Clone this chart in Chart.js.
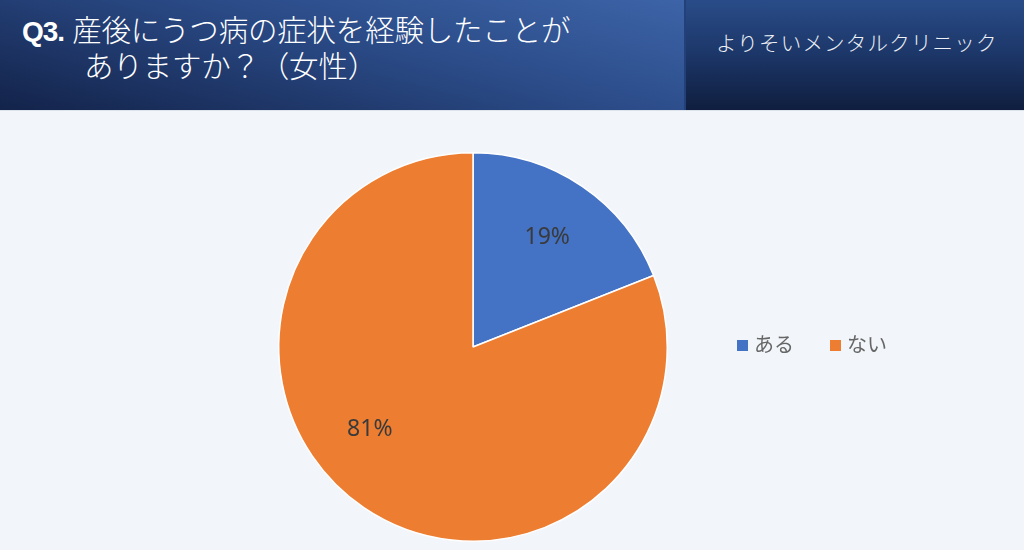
<!DOCTYPE html>
<html>
<head>
<meta charset="utf-8">
<script src="https://cdn.jsdelivr.net/npm/chart.js@4.4.1/dist/chart.umd.min.js"></script>
<style>
    body { margin: 0; width: 1024px; height: 550px; overflow: hidden; background: #f2f5f9; font-family: "Noto Sans CJK JP", sans-serif; }
    #header { position: absolute; left: 0; top: 0; width: 1024px; height: 110px; }
    #left { position: absolute; left: 0; top: 0; width: 684px; height: 110px;
        background: linear-gradient(195deg, #3d64a8 0%, #2a4a86 45%, #13234a 100%); }
    #right { position: absolute; left: 684px; top: 0; width: 340px; height: 110px;
        background: linear-gradient(180deg, #294c88 0%, #1c3668 50%, #0f1e3e 100%);
        border-left: 2px solid #22417a; box-sizing: border-box; }
    #title { position: absolute; left: 22px; top: 12px; color: #fff; font-size: 29.5px; font-weight: 300; line-height: 33px; letter-spacing: -0.2px; }
    #title b { font-family: "Liberation Sans", Arial, sans-serif; font-size: 28px; font-weight: bold; letter-spacing: -1px; margin-right: 8px; }
    #title .l2 { display: block; padding-left: 62px; }
    #clinic { position: absolute; left: 716px; top: 27px; color: #eef1f6; font-size: 20.5px; font-weight: 300; letter-spacing: 1.2px; }
    #line { position: absolute; left: 0; top: 110px; width: 1024px; height: 1px; background: #dde3ea; }
    #wrap { position: absolute; left: 0; top: 110px; width: 1024px; height: 440px; }
    #legend { position: absolute; left: 737px; top: 329px; font-size: 20px; color: #666; }
    #legend span.item { margin-right: 36px; }
    #legend span.box { display: inline-block; width: 11px; height: 11px; margin-right: 6px; vertical-align: 1px; }
</style>
</head>
<body>
<div id="header">
    <div id="left"></div>
    <div id="right"></div>
    <div id="title"><b>Q3.</b>産後にうつ病の症状を経験したことが<span class="l2">ありますか？（女性）</span></div>
    <div id="clinic">よりそいメンタルクリニック</div>
</div>
<div id="line"></div>
<div id="wrap"><canvas id="myChart"></canvas></div>
<div id="legend"></div>

<script>
let labels = ["ある", "ない"]
let values = [19, 81]
let colors = ["#4472c4", "#ed7d31"]

// legend from the same arrays
let legendHtml = ""
for (let i = 0; i < labels.length; i++) {
    legendHtml += `<span class="item"><span class="box" style="background:${colors[i]}"></span>${labels[i]}</span>`
}
document.getElementById("legend").innerHTML = legendHtml

// percent labels inside slices
const pctLabels = {
    id: "pctLabels",
    afterDatasetsDraw(chart) {
        let ctx = chart.ctx
        let meta = chart.getDatasetMeta(0)
        ctx.save()
        ctx.font = '23px "Noto Sans", sans-serif'
        ctx.fillStyle = "#3a3a3a"
        ctx.textAlign = "center"
        ctx.textBaseline = "middle"
        meta.data.forEach((arc, i) => {
            let mid = (arc.startAngle + arc.endAngle) / 2
            // big slice: excel puts its label a bit further round
            if (values[i] > 50) mid += 0.3
            let r = arc.outerRadius * 0.68
            ctx.fillText(values[i] + "%", arc.x + Math.cos(mid) * r, arc.y + Math.sin(mid) * r)
        })
        ctx.restore()
    }
}

const ctx = document.getElementById("myChart")
new Chart(ctx, {
    type: "pie",
    data: {
        labels: labels,
        datasets: [{
            data: values,
            backgroundColor: colors,
            borderColor: "#ffffff",
            borderWidth: 1.5
        }]
    },
    options: {
        responsive: true,
        maintainAspectRatio: false,
        animation: false,
        layout: { padding: { top: 42, bottom: 8, left: 278, right: 356 } },
        plugins: {
            legend: { display: false },
            tooltip: { enabled: false }
        }
    },
    plugins: [pctLabels]
})
</script>
</body>
</html>
